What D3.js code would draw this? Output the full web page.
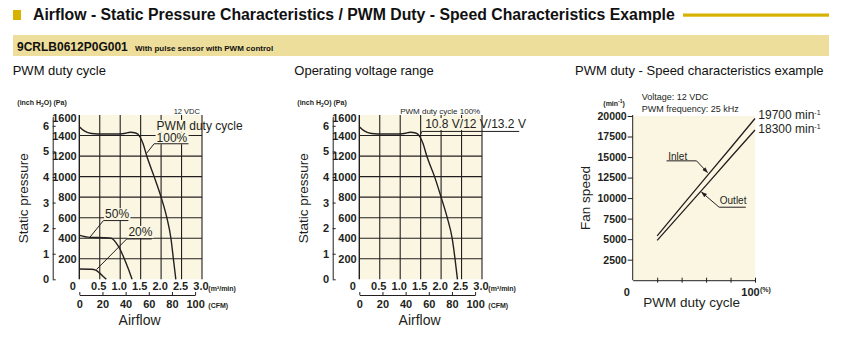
<!DOCTYPE html>
<html>
<head>
<meta charset="utf-8">
<script src="https://cdn.jsdelivr.net/npm/d3@7"></script>
<style>
body { margin: 0; background: #fff; }
svg { display: block; }
</style>
</head>
<body>
<div id="chart"></div>
<script>
// values
// airflow in m3/min, static pressure in Pa
const flow100 = [0, 0.12, 0.3, 0.6, 0.9, 1.1, 1.25, 1.38, 1.48, 1.56, 1.65, 1.83, 2.0, 2.14, 2.24, 2.3, 2.36];
const pa100   = [1485, 1445, 1420, 1415, 1415, 1420, 1432, 1425, 1390, 1320, 1200, 1000, 800, 600, 400, 200, 0];
const flow50  = [0, 0.25, 0.6, 0.78, 0.9, 1.0, 1.1, 1.2, 1.29];
const pa50    = [430, 408, 405, 400, 355, 290, 200, 100, 0];
const flow20  = [0, 0.3, 0.4, 0.5, 0.6, 0.66];
const pa20    = [100, 98, 90, 60, 22, 0];
const flowVolt = [0, 0.12, 0.3, 0.6, 0.9, 1.1, 1.25, 1.38, 1.48, 1.56, 1.65, 1.84, 2.0, 2.15, 2.27, 2.34, 2.4];
const paVolt   = [1485, 1445, 1420, 1415, 1415, 1420, 1432, 1425, 1390, 1320, 1200, 1000, 800, 600, 400, 200, 0];

const paTicks = [200, 400, 600, 800, 1000, 1200, 1400, 1600];
const inchTicks = [0, 1, 2, 3, 4, 5, 6];
const flowTicks = [0, 0.5, 1.0, 1.5, 2.0, 2.5, 3.0];
const cfmTicks = [0, 20, 40, 60, 80, 100];

// PWM duty (%) vs fan speed (min-1)
const duty = [20, 40, 60, 80, 100];
const inletSpeed = [5400, 9000, 12550, 16100, 19700];
const outletSpeed = [4850, 8200, 11550, 14950, 18300];
const speedTicks = [2500, 5000, 7500, 10000, 12500, 15000, 17500, 20000];
const dutyTicks = [0, 20, 40, 60, 80, 100];

const width = 868, height = 354;
const sans = "'Liberation Sans', Arial, Helvetica, sans-serif";
const narrow = "'Liberation Sans Narrow', 'Arial Narrow', 'Liberation Sans', sans-serif";
const ink = "#231f20", beige = "#faf6e2", gold = "#d8b200", band = "#eede9b";
const plain = d3.format("d");

const svg = d3.select("#chart").append("svg")
  .attr("width", width)
  .attr("height", height)
  .style("font-family", sans);

svg.append("defs").append("marker")
  .attr("id", "arrow")
  .attr("viewBox", "0 0 10 10")
  .attr("refX", 9).attr("refY", 5)
  .attr("markerWidth", 6).attr("markerHeight", 6)
  .attr("orient", "auto")
  .append("path")
  .attr("d", "M0,1.5L10,5L0,8.5Z")
  .attr("fill", ink);

// numbers on the axes are set in a condensed bold face
function tickText(sel, size) {
  sel.style("font-family", narrow).style("font-size", size).style("font-weight", "bold").attr("fill", ink);
}

// header
svg.append("rect").attr("x", 13).attr("y", 10).attr("width", 8).attr("height", 10).attr("fill", gold);
svg.append("text")
  .attr("x", 33).attr("y", 20)
  .style("font-size", "15.8px").style("font-weight", "bold").attr("fill", "#111")
  .text("Airflow - Static Pressure Characteristics / PWM Duty - Speed Characteristics Example");
svg.append("rect").attr("x", 683).attr("y", 13.5).attr("width", 146).attr("height", 3.2).attr("fill", gold);

svg.append("rect").attr("x", 13).attr("y", 35).attr("width", 816).attr("height", 21).attr("fill", band);
const bandText = svg.append("text").attr("x", 17).attr("y", 51).attr("fill", "#111").style("font-weight", "bold");
bandText.append("tspan").style("font-size", "12px").text("9CRLB0612P0G001");
bandText.append("tspan").attr("x", 135).style("font-size", "8px").text("With pulse sensor with PWM control");

[["PWM duty cycle", 12.7], ["Operating voltage range", 294.3], ["PWM duty - Speed characteristics example", 575]]
  .forEach(([t, x]) => {
    svg.append("text").attr("x", x).attr("y", 75).style("font-size", "13px").attr("fill", "#111").text(t);
  });

// beige patch behind a label so the grid does not run through it
function knock(g, text, x, y) {
  const b = text.node().getBBox();
  const x0 = Math.max(b.x - 1, x.range()[0] + 1), x1 = Math.min(b.x + b.width + 1, x.range()[1] - 1);
  const y0 = Math.max(b.y + 1, y.range()[1]), y1 = Math.min(b.y + b.height - 1, y.range()[0]);
  if (x1 > x0 && y1 > y0) {
    g.insert("rect", () => text.node())
      .attr("x", x0).attr("y", y0).attr("width", x1 - x0).attr("height", y1 - y0)
      .attr("fill", beige);
  }
}

function labelWithLeader(g, x, y, text, tx, ty, x1, x2, uy, px, py, size) {
  const t = g.append("text").attr("x", tx).attr("y", ty).style("font-size", size).attr("fill", ink).text(text);
  knock(g, t, x, y);
  g.append("path")
    .attr("d", `M${x2},${uy}H${x1}L${px},${py}`)
    .attr("fill", "none").attr("stroke", ink).attr("stroke-width", 1);
}

// static pressure chart (used twice)
function drawPQ(ox, series, notes) {
  const g = svg.append("g").attr("transform", `translate(${ox},0)`);
  const x = d3.scaleLinear().domain([0, 3]).range([79.3, 202]);
  const y = d3.scaleLinear().domain([0, 1600]).range([279.3, 115]);
  const inch = y.copy().domain([0, 1600 / 249.089]);
  const cfm = d3.scaleLinear().domain([0, 100]).range([x(0), x(100 * 0.0283168)]);

  g.append("rect")
    .attr("x", x(0)).attr("y", y(1600))
    .attr("width", x(3) - x(0)).attr("height", y(0) - y(1600))
    .attr("fill", beige);

  g.append("g").selectAll("line")
    .data(flowTicks)
    .join("line")
    .attr("x1", d => x(d)).attr("x2", d => x(d))
    .attr("y1", y(1600)).attr("y2", y(0))
    .attr("stroke", ink).attr("stroke-width", d => d === 0 ? 1.4 : 1.1);

  g.append("g").selectAll("line")
    .data(paTicks.filter(d => d < 1600))
    .join("line")
    .attr("x1", x(0)).attr("x2", x(3))
    .attr("y1", d => y(d)).attr("y2", d => y(d))
    .attr("stroke", ink).attr("stroke-width", 1.1);

  // Pa labels
  const paAxis = g.append("g")
    .attr("transform", "translate(76.7,0)")
    .call(d3.axisLeft(y).tickValues(paTicks).tickSize(0).tickPadding(0).tickFormat(plain));
  paAxis.select(".domain").remove();
  paAxis.selectAll("text").call(tickText, "11px")
    .attr("dy", d => d === 1600 ? "0.6em" : "0.34em");

  // inch H2O axis
  const inchAxis = g.append("g")
    .attr("transform", "translate(52.7,0)")
    .call(d3.axisRight(inch).tickValues(inchTicks).tickSize(3).tickSizeOuter(0).tickFormat(plain));
  inchAxis.select(".domain").attr("stroke", ink).attr("d", `M0.5,${y(1600) + 2}V${y(0)}`);
  inchAxis.selectAll("line").attr("stroke", ink);
  inchAxis.selectAll("text").attr("x", -3.5).attr("text-anchor", "end").call(tickText, "11px");

  // m3/min labels
  const flowAxis = g.append("g")
    .attr("transform", "translate(0,282.5)")
    .call(d3.axisBottom(x).tickValues(flowTicks).tickSize(0).tickPadding(0)
      .tickFormat(d => d === 0 ? "0" : d.toFixed(1)));
  flowAxis.select(".domain").remove();
  flowAxis.selectAll("text").attr("x", d => d === 0 ? -7 : -1.5).call(tickText, "11px");

  // CFM axis
  const cfmAxis = g.append("g")
    .attr("transform", "translate(0,295)")
    .call(d3.axisBottom(cfm).tickValues(cfmTicks).tickSizeInner(-3).tickSizeOuter(0).tickPadding(5).tickFormat(plain));
  cfmAxis.selectAll(".domain, line").attr("stroke", ink);
  cfmAxis.selectAll("text").call(tickText, "11px");

  g.append("text").attr("x", 208.3).attr("y", 291).style("font-size", "7px").style("font-weight", "bold")
    .attr("fill", ink).text("(m³/min)");
  g.append("text").attr("x", 208.3).attr("y", 308).style("font-size", "7px").style("font-weight", "bold")
    .attr("fill", ink).text("(CFM)");
  const units = g.append("text").attr("x", 17.3).attr("y", 105).style("font-size", "7px").style("font-weight", "bold")
    .attr("fill", ink);
  units.append("tspan").text("(inch H");
  units.append("tspan").attr("dy", 1.5).style("font-size", "5px").text("2");
  units.append("tspan").attr("dy", -1.5).text("O)  (Pa)");

  g.append("text").attr("x", 139.6).attr("y", 325).attr("text-anchor", "middle")
    .style("font-size", "14px").attr("fill", ink).text("Airflow");
  g.append("text").attr("transform", "translate(28.3,198.3) rotate(-90)").attr("text-anchor", "middle")
    .style("font-size", "13.5px").attr("fill", ink).text("Static pressure");

  const line = d3.line().curve(d3.curveMonotoneX);
  series.forEach(s => {
    g.append("path")
      .attr("d", line(s.flow.map((f, i) => [x(f), y(s.pa[i])])))
      .attr("fill", "none").attr("stroke", ink).attr("stroke-width", 1.4);
  });

  notes(g, x, y);
}

drawPQ(0, [
  {flow: flow100, pa: pa100},
  {flow: flow50, pa: pa50},
  {flow: flow20, pa: pa20}
], (g, x, y) => {
  g.append("text").attr("x", x(2.95)).attr("y", y(1612)).attr("text-anchor", "end")
    .style("font-size", "7.5px").attr("fill", ink).text("12 VDC");
  const t = g.append("text").attr("x", x(1.89)).attr("y", y(1455))
    .style("font-size", "12px").attr("fill", ink).text("PWM duty cycle");
  knock(g, t, x, y);
  labelWithLeader(g, x, y, "100%", x(1.89), y(1335), x(1.83), x(2.67), y(1320), x(1.64), y(1225), "12px");
  labelWithLeader(g, x, y, "50%", x(0.63), y(595), x(0.59), x(1.2), y(572), x(0.26), y(410), "12px");
  labelWithLeader(g, x, y, "20%", x(1.2), y(422), x(1.16), x(1.77), y(393), x(0.42), y(95), "12px");
});

drawPQ(280, [
  {flow: flowVolt, pa: paVolt}
], (g, x, y) => {
  g.append("text").attr("x", x(1.0)).attr("y", y(1612))
    .style("font-size", "8px").attr("fill", ink).text("PWM duty cycle 100%");
  labelWithLeader(g, x, y, "10.8 V/12 V/13.2 V", x(1.61), y(1473), x(1.53), x(3.91), y(1440), x(1.48), y(1395), "12px");
});

// PWM duty - speed chart
{
  const g = svg.append("g");
  const x = d3.scaleLinear().domain([0, 100]).range([632.7, 755]);
  const y = d3.scaleLinear().domain([0, 20000]).range([280.2, 116]);

  g.append("rect")
    .attr("x", x(0)).attr("y", y(20000))
    .attr("width", x(100) - x(0)).attr("height", y(0) - y(20000))
    .attr("fill", beige);

  const yAxis = g.append("g")
    .attr("transform", `translate(${x(0)},0)`)
    .call(d3.axisLeft(y).tickValues(speedTicks).tickSize(5).tickSizeOuter(0).tickPadding(1).tickFormat(plain));
  yAxis.select(".domain").attr("stroke", ink).attr("d", `M0,${y(20000) - 1}V${y(0)}`);
  yAxis.selectAll("line").attr("stroke", ink);
  yAxis.selectAll("text").call(tickText, "10.5px");

  const xAxis = g.append("g")
    .attr("transform", `translate(0,${y(0)})`)
    .call(d3.axisBottom(x).tickValues(dutyTicks).tickSize(2.5).tickSizeOuter(0).tickPadding(6)
      .tickFormat(d => (d === 0 || d === 100) ? d : ""));
  xAxis.select(".domain").attr("stroke", ink);
  xAxis.selectAll("line").attr("stroke", ink).attr("y1", d => d === 0 ? 0 : -2.5).attr("y2", d => d === 0 ? 0 : 2.5);
  xAxis.selectAll("text").attr("x", d => d === 0 ? -6.5 : -5).call(tickText, "11px");

  g.append("text").attr("x", 760).attr("y", 292).style("font-size", "7px").style("font-weight", "bold")
    .attr("fill", ink).text("(%)");
  g.append("text").attr("x", 691.7).attr("y", 306.7).attr("text-anchor", "middle")
    .style("font-size", "13.5px").attr("fill", ink).text("PWM duty cycle");
  g.append("text").attr("transform", "translate(590,198) rotate(-90)").attr("text-anchor", "middle")
    .style("font-size", "13.5px").attr("fill", ink).text("Fan speed");

  const unit = g.append("text").attr("x", 603.3).attr("y", 105.5).style("font-size", "7px").style("font-weight", "bold").attr("fill", ink);
  unit.append("tspan").text("(min");
  unit.append("tspan").attr("dy", -2.5).style("font-size", "5px").text("-1");
  unit.append("tspan").attr("dy", 2.5).text(")");

  g.append("text").attr("x", 641.7).attr("y", 100).style("font-size", "9px").attr("fill", ink).text("Voltage: 12 VDC");
  g.append("text").attr("x", 641.7).attr("y", 112).style("font-size", "9px").attr("fill", ink).text("PWM frequency: 25 kHz");

  const line = d3.line().x((d, i) => x(duty[i])).y(d => y(d));
  [inletSpeed, outletSpeed].forEach(s => {
    g.append("path").attr("d", line(s)).attr("fill", "none").attr("stroke", ink).attr("stroke-width", 1.3);
  });

  [[19700, 119], [18300, 132.5]].forEach(([v, by]) => {
    const t = g.append("text").attr("x", 758.3).attr("y", by)
      .style("font-family", narrow).style("font-size", "12px").attr("fill", ink);
    t.append("tspan").text(`${v} min`);
    t.append("tspan").attr("dy", -4).style("font-size", "7px").text("-1");
  });

  g.append("text").attr("x", x(29.1)).attr("y", y(14659)).style("font-size", "10px").attr("fill", ink).text("Inlet");
  g.append("path")
    .attr("d", `M${x(27.7)},${y(14537)}H${x(52.2)}L${x(61.2)},${y(13110)}`)
    .attr("fill", "none").attr("stroke", ink).attr("stroke-width", 1).attr("marker-end", "url(#arrow)");
  g.append("text").attr("x", x(71.2)).attr("y", y(9256)).style("font-size", "10px").attr("fill", ink).text("Outlet");
  g.append("path")
    .attr("d", `M${x(92.5)},${y(8890)}H${x(70.7)}L${x(56.3)},${y(10720)}`)
    .attr("fill", "none").attr("stroke", ink).attr("stroke-width", 1).attr("marker-end", "url(#arrow)");
}
</script>
</body>
</html>
